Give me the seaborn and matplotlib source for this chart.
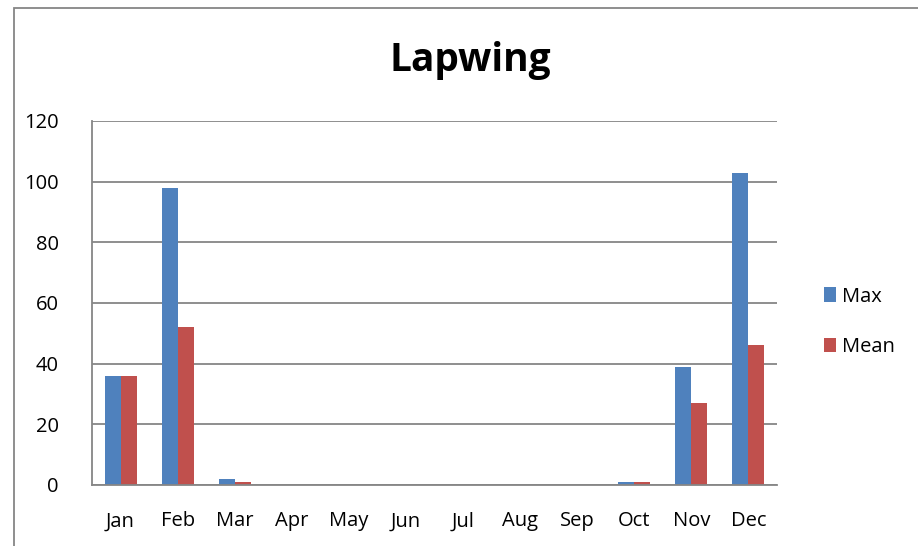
import matplotlib
matplotlib.use("Agg")
import matplotlib.pyplot as plt
import seaborn as sns
import pandas as pd
from matplotlib.patches import Rectangle

months = ["Jan", "Feb", "Mar", "Apr", "May", "Jun", "Jul", "Aug", "Sep", "Oct", "Nov", "Dec"]
max_vals = [36, 98, 2, 0, 0, 0, 0, 0, 0, 1, 39, 103]
mean_vals = [36, 52, 1, 0, 0, 0, 0, 0, 0, 1, 27, 46]
series = ["Max", "Mean"]
y_ticks = [0, 20, 40, 60, 80, 100, 120]

df = pd.DataFrame({
    "Month": months * 2,
    "Value": max_vals + mean_vals,
    "Series": [series[0]] * 12 + [series[1]] * 12,
})

sns.set_style("white")
plt.rcParams['font.family'] = ['Open Sans', 'DejaVu Sans']
plt.rcParams['text.color'] = 'black'

fig = plt.figure(figsize=(9.18, 5.46), dpi=100)
ax = fig.add_axes([92/918, 1-485/546, (777-92)/918, (485-121)/546])

sns.barplot(data=df, x="Month", y="Value", hue="Series", order=months,
            hue_order=series, palette=["#4F81BD", "#C0504D"], width=0.56,
            saturation=1, ax=ax, legend=True, linewidth=0, edgecolor="none")

ax.set_ylim(0, 120)
ax.set_xlim(-0.5, 11.5)
ax.set_yticks(y_ticks)
ax.set_xlabel("")
ax.set_ylabel("")
ax.grid(axis="y", color="#868686", linewidth=1.3)
ax.set_axisbelow(True)
for s in ["top", "right"]:
    ax.spines[s].set_visible(False)
for s in ["left", "bottom"]:
    ax.spines[s].set_color("#868686")
    ax.spines[s].set_linewidth(1.3)
ax.tick_params(axis="both", length=0, labelsize=14.5, colors="black")
ax.tick_params(axis="y", pad=24)
ax.tick_params(axis="x", pad=19)

leg = ax.legend(loc="center left", bbox_to_anchor=(806/918, 1-322/546),
                bbox_transform=fig.transFigure, frameon=False, fontsize=14.5,
                handlelength=0.6, handleheight=0.75, handletextpad=0.3,
                labelspacing=1.5)
for t in leg.get_texts():
    t.set_color("black")

fig.text(470/918, 1-61/546, "Lapwing", ha="center", va="center",
         fontsize=28, fontweight="bold", color="black")

fig.patches.append(Rectangle((14/918, -0.1), 1.2, 1 - 8/546 + 0.1,
                             transform=fig.transFigure, fill=False,
                             edgecolor="#868686", linewidth=1.3))

fig.savefig("out.png", dpi=100)
